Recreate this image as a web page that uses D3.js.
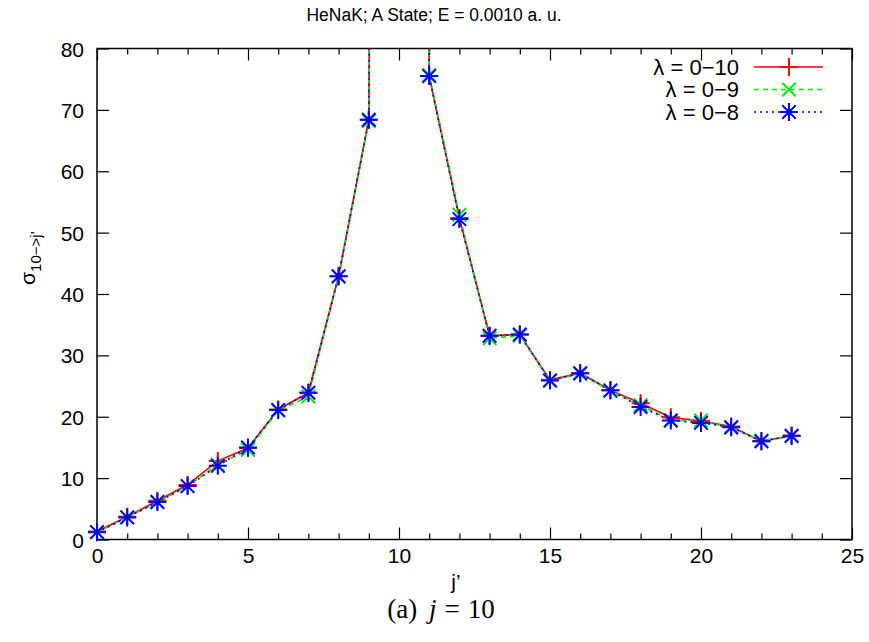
<!DOCTYPE html>
<html>
<head>
<meta charset="utf-8">
<script src="https://cdn.jsdelivr.net/npm/d3@7"></script>
<style>
  html, body { margin: 0; padding: 0; background: #fff; }
  svg { display: block; }
  text { font-family: "Liberation Sans", Arial, Helvetica, sans-serif; fill: #000; }
</style>
</head>
<body>
<svg id="chart" width="869" height="642"></svg>
<script>
// Final rotational level j' for initial level j = 10
const jPrime = [0,1,2,3,4,5,6,7,8,9,10,11,12,13,14,15,16,17,18,19,20,21,22,23];

// Cross sections for three lambda expansions (j' = 10 is the elastic peak, far above the frame)
const sigmaL10 = [1.3,3.7,6.3,8.9,12.8,14.9,21.2,23.9,42.9,68.4,800,75.5,52.4,33.2,33.4,26.0,27.1,24.3,22.2,19.9,19.3,18.4,16.0,16.9];
const sigmaL9  = [1.2,3.6,6.1,8.7,12.2,14.6,21.0,23.3,42.8,68.2,800,75.7,52.9,32.8,33.2,25.9,27.0,24.2,21.9,19.4,19.4,18.2,16.1,16.8];
const sigmaL8  = [1.2,3.6,6.1,8.7,12.0,15.0,21.1,23.9,42.9,68.4,800,75.5,52.2,33.2,33.4,25.9,27.1,24.3,21.6,19.4,19.0,18.3,16.0,16.9];

const seriesNames = ["λ = 0−10", "λ = 0−9", "λ = 0−8"];
const xTicks = [0, 5, 10, 15, 20, 25];
const yTicks = [0, 10, 20, 30, 40, 50, 60, 70, 80];

const titleText = "HeNaK; A State; E = 0.0010 a. u.";

const svg = d3.select("#chart");
const m = { left: 97, right: 852, top: 48.5, bottom: 539.5 };

const x = d3.scaleLinear().domain([0, 25]).range([m.left, m.right]);
const y = d3.scaleLinear().domain([0, 80]).range([m.bottom, m.top]);

const series = [
  { name: seriesNames[0], values: sigmaL10, color: "#ff0000", dash: null, marker: "plus" },
  { name: seriesNames[1], values: sigmaL9,  color: "#00ee00", dash: "5,4", marker: "cross" },
  { name: seriesNames[2], values: sigmaL8,  color: "#0000ff", dash: "2,4", marker: "star" }
];

svg.append("defs").append("clipPath").attr("id", "plotClip")
  .append("rect")
  .attr("x", m.left).attr("y", m.top)
  .attr("width", m.right - m.left).attr("height", m.bottom - m.top);

// Title (slightly condensed face)
svg.append("text")
  .attr("transform", "translate(434,21) scale(0.92,1)")
  .attr("text-anchor", "middle")
  .style("font-size", "19px")
  .text(titleText);

// Axes with inward ticks, mirrored on top / right
const tickFont = "21px";
const xMajor = d3.axisBottom(x).tickValues(xTicks).tickSize(-12).tickPadding(9).tickFormat(d3.format("d"));
const xMinor = d3.axisBottom(x).tickValues(d3.range(0, 26).filter(v => v % 5 !== 0)).tickSize(-6).tickFormat("");
const xTopMajor = d3.axisTop(x).tickValues(xTicks).tickSize(-12).tickFormat("");
const xTopMinor = d3.axisTop(x).tickValues(d3.range(0, 26).filter(v => v % 5 !== 0)).tickSize(-6).tickFormat("");
const yLeft = d3.axisLeft(y).tickValues(yTicks).tickSize(-12).tickPadding(13).tickFormat(d3.format("d"));
const yRight = d3.axisRight(y).tickValues(yTicks).tickSize(-12).tickFormat("");

function styleAxis(g) {
  g.select(".domain").remove();
  g.selectAll(".tick line").attr("stroke", "#000").attr("stroke-width", 1.2);
  g.selectAll(".tick text").style("font-size", tickFont)
    .style("font-family", "'Liberation Sans', Arial, sans-serif").attr("fill", "#000");
}

svg.append("g").attr("transform", `translate(0,${m.bottom})`).call(xMajor).call(styleAxis);
svg.append("g").attr("transform", `translate(0,${m.bottom})`).call(xMinor).call(styleAxis);
svg.append("g").attr("transform", `translate(0,${m.top})`).call(xTopMajor).call(styleAxis);
svg.append("g").attr("transform", `translate(0,${m.top})`).call(xTopMinor).call(styleAxis);
svg.append("g").attr("transform", `translate(${m.left},0)`).call(yLeft).call(styleAxis)
  .selectAll(".tick text").attr("dy", "0.36em");
svg.append("g").attr("transform", `translate(${m.right},0)`).call(yRight).call(styleAxis);

// Frame
svg.append("rect")
  .attr("x", m.left).attr("y", m.top)
  .attr("width", m.right - m.left).attr("height", m.bottom - m.top)
  .attr("fill", "none").attr("stroke", "#000").attr("stroke-width", 1.5);

// Axis titles
const yLab = svg.append("text")
  .attr("transform", "translate(35,258) rotate(-90)")
  .attr("text-anchor", "middle")
  .style("font-size", "21px");
yLab.append("tspan").text("σ");
yLab.append("tspan").attr("dy", 6).style("font-size", "15px").text("10−>j’");

svg.append("text")
  .attr("x", 456).attr("y", 589)
  .attr("text-anchor", "middle")
  .style("font-size", "21px")
  .text("j’");

// Caption
const cap = svg.append("text")
  .attr("x", 441).attr("y", 618)
  .attr("text-anchor", "middle")
  .style("font-family", "'Liberation Serif', 'DejaVu Serif', serif")
  .style("font-size", "27px");
cap.append("tspan").text("(a) ");
cap.append("tspan").attr("dx", 5).style("font-style", "italic").text("j");
cap.append("tspan").attr("dx", 8).text("=");
cap.append("tspan").attr("dx", 8).text("10");

// Marker shapes
function markerPath(type, s) {
  const p = d3.path();
  if (type === "plus" || type === "star") {
    p.moveTo(-s, 0); p.lineTo(s, 0);
    p.moveTo(0, -s); p.lineTo(0, s);
  }
  if (type === "cross" || type === "star") {
    const d = s * 0.75;
    p.moveTo(-d, -d); p.lineTo(d, d);
    p.moveTo(-d, d); p.lineTo(d, -d);
  }
  return p.toString();
}

const line = d3.line()
  .x((d, i) => x(jPrime[i]))
  .y(d => y(d));

const plot = svg.append("g");
series.forEach(s => {
  plot.append("path")
    .attr("clip-path", "url(#plotClip)")
    .attr("d", line(s.values))
    .attr("fill", "none")
    .attr("stroke", s.color)
    .attr("stroke-width", 1.7)
    .attr("stroke-dasharray", s.dash);
});
series.forEach(s => {
  plot.selectAll(null)
    .data(s.values.map((v, i) => ({ j: jPrime[i], v })).filter(d => d.v <= 80))
    .join("path")
    .attr("transform", d => `translate(${x(d.j)},${y(d.v)})`)
    .attr("d", markerPath(s.marker, 9))
    .attr("fill", "none")
    .attr("stroke", s.color)
    .attr("stroke-width", 2);
});

// Legend
const legend = svg.append("g");
series.forEach((s, i) => {
  const ly = 67 + i * 22.5;
  legend.append("text")
    .attr("x", 739).attr("y", ly)
    .attr("dy", "0.36em")
    .attr("text-anchor", "end")
    .style("font-size", "22px")
    .text(s.name);
  legend.append("line")
    .attr("x1", 754).attr("x2", 823)
    .attr("y1", ly).attr("y2", ly)
    .attr("stroke", s.color).attr("stroke-width", 1.7)
    .attr("stroke-dasharray", s.dash);
  legend.append("path")
    .attr("transform", `translate(789,${ly})`)
    .attr("d", markerPath(s.marker, 9))
    .attr("fill", "none").attr("stroke", s.color).attr("stroke-width", 2);
});
</script>
</body>
</html>
